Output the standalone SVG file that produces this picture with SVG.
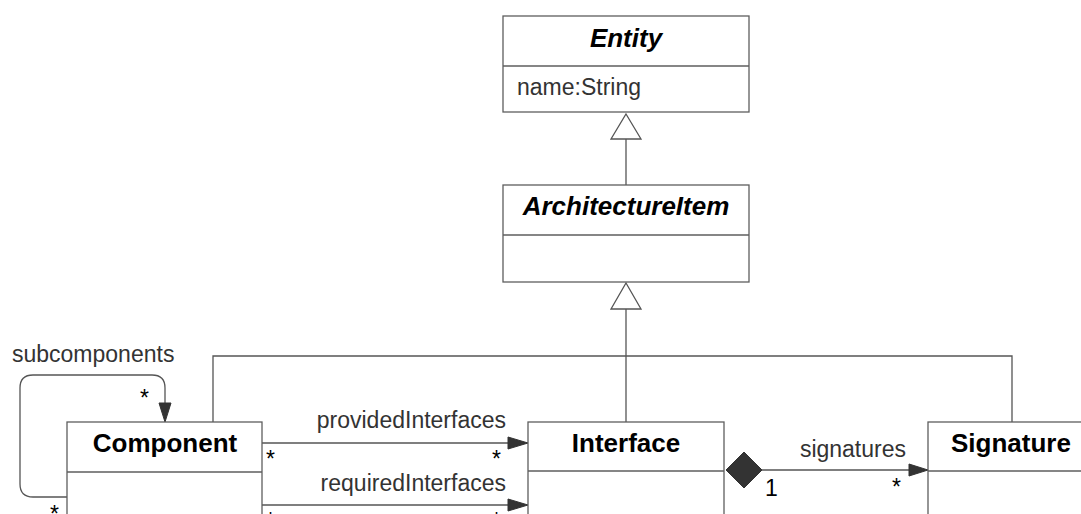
<svg xmlns="http://www.w3.org/2000/svg" width="1081" height="514" viewBox="0 0 1081 514">
  <style>
    .box { fill: #ffffff; stroke: #5e5e5e; stroke-width: 1.3; }
    .sep { stroke: #5e5e5e; stroke-width: 1.3; fill: none; }
    .edge { stroke: #555555; stroke-width: 1.3; fill: none; }
    .head { fill: #333333; stroke: #333333; stroke-width: 1; }
    .gen { fill: #ffffff; stroke: #555555; stroke-width: 1.3; }
    .title { font-family: "Liberation Sans", Arial, sans-serif; font-weight: bold; font-size: 26px; fill: #000000; text-anchor: middle; }
    .abstract { font-style: italic; }
    .attr { font-family: "Liberation Sans", Arial, sans-serif; font-size: 23px; fill: #333333; }
    .label { font-family: "Liberation Sans", Arial, sans-serif; font-size: 23px; fill: #333333; }
    .mult { font-family: "Liberation Sans", Arial, sans-serif; font-size: 23px; fill: #000000; }
  </style>
  <rect width="1081" height="514" fill="#ffffff"/>

  <!-- connectors -->
  <g id="connectors">
    <!-- ArchitectureItem generalizes Entity -->
    <line class="edge" x1="626" y1="139" x2="626" y2="185"/>
    <polygon class="gen" points="626,114 641,139 611,139"/>
    <!-- Component / Interface / Signature generalize ArchitectureItem -->
    <line class="edge" x1="626" y1="309" x2="626" y2="422"/>
    <polyline class="edge" points="213,422 213,356 1012,356 1012,422"/>
    <polygon class="gen" points="626,283 641,309 611,309"/>

    <!-- subcomponents self association -->
    <path class="edge" d="M67,497 H33 Q20,497 20,484 V388 Q20,375 33,375 H152 Q165,375 165,388 V404"/>
    <polygon class="head" points="159,403 171,403 165,422"/>
    <text class="label" x="12" y="362">subcomponents</text>
    <text class="mult" x="140" y="406">*</text>
    <text class="mult" x="50" y="522">*</text>

    <!-- providedInterfaces -->
    <line class="edge" x1="262" y1="443" x2="510" y2="443"/>
    <polygon class="head" points="508,437 528,443 508,449"/>
    <text class="label" x="506" y="428" text-anchor="end">providedInterfaces</text>
    <text class="mult" x="266" y="467">*</text>
    <text class="mult" x="492" y="467">*</text>

    <!-- requiredInterfaces -->
    <line class="edge" x1="262" y1="505" x2="510" y2="505"/>
    <polygon class="head" points="508,499 528,505 508,511"/>
    <text class="label" x="506" y="491" text-anchor="end">requiredInterfaces</text>
    <text class="mult" x="266" y="529">*</text>
    <text class="mult" x="492" y="529">*</text>

    <!-- signatures composition -->
    <line class="edge" x1="762" y1="470" x2="911" y2="470"/>
    <polygon class="head" points="726,470 744,452 762,470 744,488"/>
    <polygon class="head" points="909,464 928,470 909,476"/>
    <text class="label" x="906" y="457" text-anchor="end">signatures</text>
    <text class="mult" x="765" y="496">1</text>
    <text class="mult" x="892" y="495">*</text>
  </g>

  <!-- Entity -->
  <g id="entity">
    <rect class="box" x="503" y="16" width="246" height="96"/>
    <line class="sep" x1="503" y1="66" x2="749" y2="66"/>
    <text class="title abstract" x="626" y="47">Entity</text>
    <text class="attr" x="517" y="95">name:String</text>
  </g>

  <!-- ArchitectureItem -->
  <g id="architecture-item">
    <rect class="box" x="503" y="185" width="246" height="97"/>
    <line class="sep" x1="503" y1="235" x2="749" y2="235"/>
    <text class="title abstract" x="626" y="215">ArchitectureItem</text>
  </g>

  <!-- Component -->
  <g id="component">
    <rect class="box" x="67" y="422" width="195" height="110"/>
    <line class="sep" x1="67" y1="472" x2="262" y2="472"/>
    <text class="title" x="165" y="452">Component</text>
  </g>

  <!-- Interface -->
  <g id="interface">
    <rect class="box" x="528" y="422" width="196" height="110"/>
    <line class="sep" x1="528" y1="471" x2="724" y2="471"/>
    <text class="title" x="626" y="452">Interface</text>
  </g>

  <!-- Signature -->
  <g id="signature">
    <rect class="box" x="928" y="422" width="196" height="110"/>
    <line class="sep" x1="928" y1="471" x2="1124" y2="471"/>
    <text class="title" x="1011" y="452">Signature</text>
  </g>
</svg>
